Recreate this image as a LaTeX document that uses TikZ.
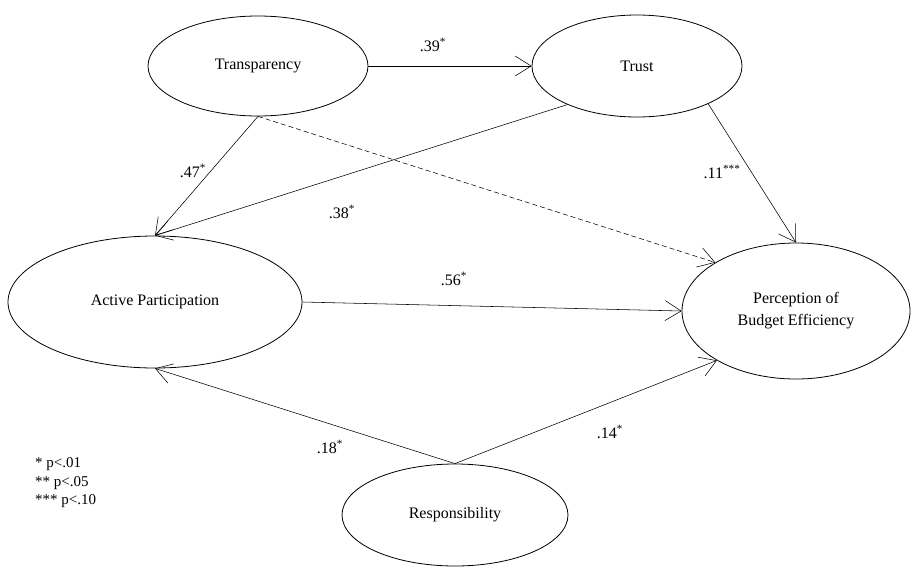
\documentclass[tikz,border=0pt]{standalone}
\usepackage{fontspec}
\setmainfont{Liberation Serif}
\usetikzlibrary{shapes.geometric,arrows.meta}
\begin{document}
\begin{tikzpicture}[x=1pt,y=-1pt,
  latent/.style={draw,ellipse,line width=0.8pt,inner sep=0pt,align=center,font=\fontsize{16}{22}\selectfont},
  path/.style={line width=0.55pt,-{Straight Barb[length=16pt,width=20pt,line width=0.55pt]}},
  coef/.style={font=\fontsize{16}{18}\selectfont,inner sep=1pt}]
\useasboundingbox (0,0) rectangle (915,568);
\node[latent,minimum width=220pt,minimum height=100pt] (tr) at (258,66) {Transparency};
\node[latent,minimum width=210pt,minimum height=102pt] (tu) at (637,66) {Trust};
\node[latent,minimum width=294pt,minimum height=132pt] (ap) at (155,302) {Active Participation};
\node[latent,minimum width=228pt,minimum height=136pt] (pe) at (796,311) {Perception of\\Budget Efficiency};
\node[latent,minimum width=226pt,minimum height=102pt] (re) at (455,515) {Responsibility};
\draw[path] (tr.east) -- (tu.west);
\draw[path] (tr.south) -- (ap.north);
\draw[path,dash pattern=on 5pt off 3pt] (tr.south) -- (pe.149);
\draw[path] (tu.209) -- (ap.north);
\draw[path] (tu.332) -- (pe.north);
\draw[path] (ap.east) -- (pe.west);
\draw[path] (re.north) -- (ap.south);
\draw[path] (re.north) -- (pe.212);
\node[coef] (l39) at (433,45) {.39\textsuperscript{*}};
\node[coef] (l47) at (193,171) {.47\textsuperscript{*}};
\node[coef] (l38) at (342,212) {.38\textsuperscript{*}};
\node[coef] (l11) at (722,172) {.11\textsuperscript{***}};
\node[coef] (l56) at (454,279) {.56\textsuperscript{*}};
\node[coef] (l14) at (610,432) {.14\textsuperscript{*}};
\node[coef] (l18) at (330,447) {.18\textsuperscript{*}};
\node[font=\fontsize{15}{18.5}\selectfont,align=left,anchor=west,inner sep=0pt] (leg) at (35,483) {* p<.01\\** p<.05\\*** p<.10};
\end{tikzpicture}
\end{document}
